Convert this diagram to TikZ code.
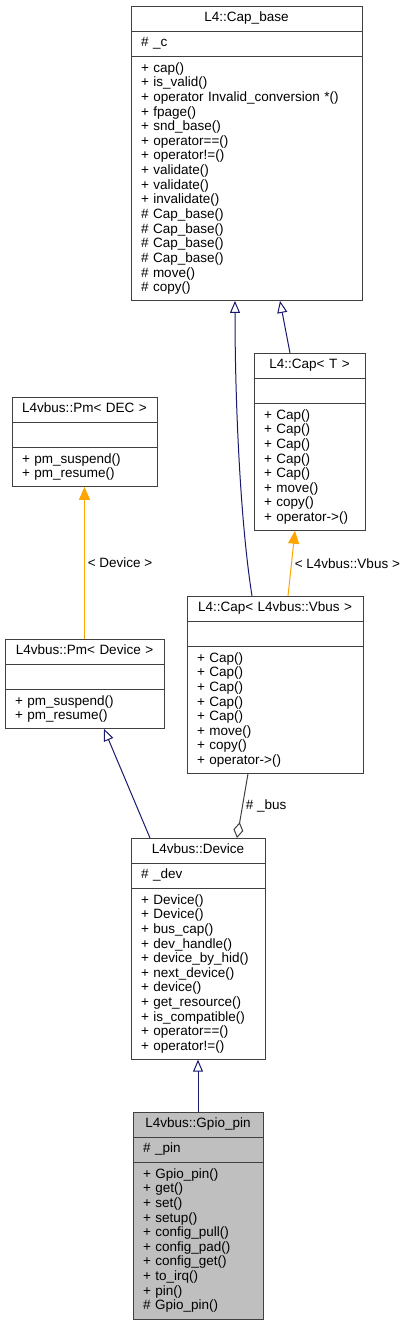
\documentclass[tikz,border=0pt]{standalone}
\usepackage{fontspec}
\setmainfont{Liberation Sans}
\definecolor{dxline}{HTML}{404040}
\definecolor{dxblue}{HTML}{191970}
\definecolor{dxorange}{HTML}{FFA500}
\definecolor{dxgrey}{HTML}{BFBFBF}
\usetikzlibrary{positioning, arrows.meta, calc}

\begin{document}
\begin{tikzpicture}[x=1pt, y=1pt, line width=1pt,
    every node/.style={font=\fontsize{13.5}{14.65}\selectfont, outer sep=0pt},
    clsrow/.style={draw=dxline, fill=white, inner xsep=10pt, text width=#1, minimum height=25pt},
    clshead/.style={clsrow=#1, inner ysep=6.15pt, text height=9.8pt, text depth=2.9pt, align=center, anchor=north west},
    clsattr/.style={clsrow=#1, inner ysep=6.15pt, text height=9.8pt, text depth=2.9pt, align=left},
    clsops/.style={clsrow=#1, inner ysep=6.3pt, align=left},
    inherit/.style={draw=dxblue, -{Triangle[fill=white, length=12pt, width=10pt]}},
    realize/.style={draw=dxorange, -{Triangle[length=13pt, width=11pt]}},
    usage/.style={draw=dxline, -{Diamond[fill=white, length=16pt, width=10pt]}}]
        \useasboundingbox (0,0) rectangle (407,-1325);
        % L4::Cap_base
        \node[clshead=211pt] (capbase) at (131,-6) {L4::Cap\_base};
        \node[clsattr=211pt, below=0pt of capbase] (capbaseattr) {\# \_c};
        \node[clsops=211pt, below=0pt of capbaseattr] (capbaseops) {+ cap()\\+ is\_valid()\\+ operator Invalid\_conversion *()\\+ fpage()\\+ snd\_base()\\+ operator==()\\+ operator!=()\\+ validate()\\+ validate()\\+ invalidate()\\\# Cap\_base()\\\# Cap\_base()\\\# Cap\_base()\\\# Cap\_base()\\\# move()\\\# copy()};
        % L4::Cap< T >
        \node[clshead=91pt] (capT) at (254,-353) {L4::Cap< T >};
        \node[clsattr=91pt, below=0pt of capT] (capTattr) {};
        \node[clsops=91pt, below=0pt of capTattr] (capTops) {+ Cap()\\+ Cap()\\+ Cap()\\+ Cap()\\+ Cap()\\+ move()\\+ copy()\\+ operator->()};
        % L4::Cap< L4vbus::Vbus >
        \node[clshead=156pt] (capV) at (187,-596) {L4::Cap< L4vbus::Vbus >};
        \node[clsattr=156pt, below=0pt of capV] (capVattr) {};
        \node[clsops=156pt, below=0pt of capVattr] (capVops) {+ Cap()\\+ Cap()\\+ Cap()\\+ Cap()\\+ Cap()\\+ move()\\+ copy()\\+ operator->()};
        % L4vbus::Pm< DEC >
        \node[clshead=125pt] (pmdec) at (12,-397) {L4vbus::Pm< DEC >};
        \node[clsattr=125pt, below=0pt of pmdec] (pmdecattr) {};
        \node[clsops=125pt, below=0pt of pmdecattr] (pmdecops) {+ pm\_suspend()\\+ pm\_resume()};
        % L4vbus::Pm< Device >
        \node[clshead=139pt] (pmdev) at (5,-639) {L4vbus::Pm< Device >};
        \node[clsattr=139pt, below=0pt of pmdev] (pmdevattr) {};
        \node[clsops=139pt, below=0pt of pmdevattr] (pmdevops) {+ pm\_suspend()\\+ pm\_resume()};
        % L4vbus::Device
        \node[clshead=114pt] (device) at (131,-838) {L4vbus::Device};
        \node[clsattr=114pt, below=0pt of device] (deviceattr) {\# \_dev};
        \node[clsops=114pt, below=0pt of deviceattr] (deviceops) {+ Device()\\+ Device()\\+ bus\_cap()\\+ dev\_handle()\\+ device\_by\_hid()\\+ next\_device()\\+ device()\\+ get\_resource()\\+ is\_compatible()\\+ operator==()\\+ operator!=()};
        % L4vbus::Gpio_pin
        \node[clshead=110pt, fill=dxgrey] (gpio) at (133,-1112) {L4vbus::Gpio\_pin};
        \node[clsattr=110pt, fill=dxgrey, below=0pt of gpio] (gpioattr) {\# \_pin};
        \node[clsops=110pt, fill=dxgrey, below=0pt of gpioattr] (gpioops) {+ Gpio\_pin()\\+ get()\\+ set()\\+ setup()\\+ config\_pull()\\+ config\_pad()\\+ config\_get()\\+ to\_irq()\\+ pin()\\\# Gpio\_pin()};
        % connectors
        \draw[inherit] ([xshift=-19.5pt]capT.north) -- ([xshift=33.5pt]capbaseops.south);
        \draw[inherit] ([xshift=-23pt]capV.north) .. controls +(-12,76) and +(0,-98) .. ([xshift=-11.5pt]capbaseops.south);
        \draw[realize] ([xshift=13pt]capV.north) -- node[right] {< L4vbus::Vbus >} ([xshift=-14.5pt]capTops.south);
        \draw[realize] (pmdev.north) -- node[right] {< Device >} (pmdecops.south);
        \draw[inherit] ([xshift=-48pt]device.north) -- ([xshift=19.5pt]pmdevops.south);
        \draw[usage] ([xshift=-27pt]capVops.south) -- node[right] {\# \_bus} ([xshift=39pt]device.north);
        \draw[inherit] (gpio.north) -- (deviceops.south);
      \end{tikzpicture}
\end{document}
